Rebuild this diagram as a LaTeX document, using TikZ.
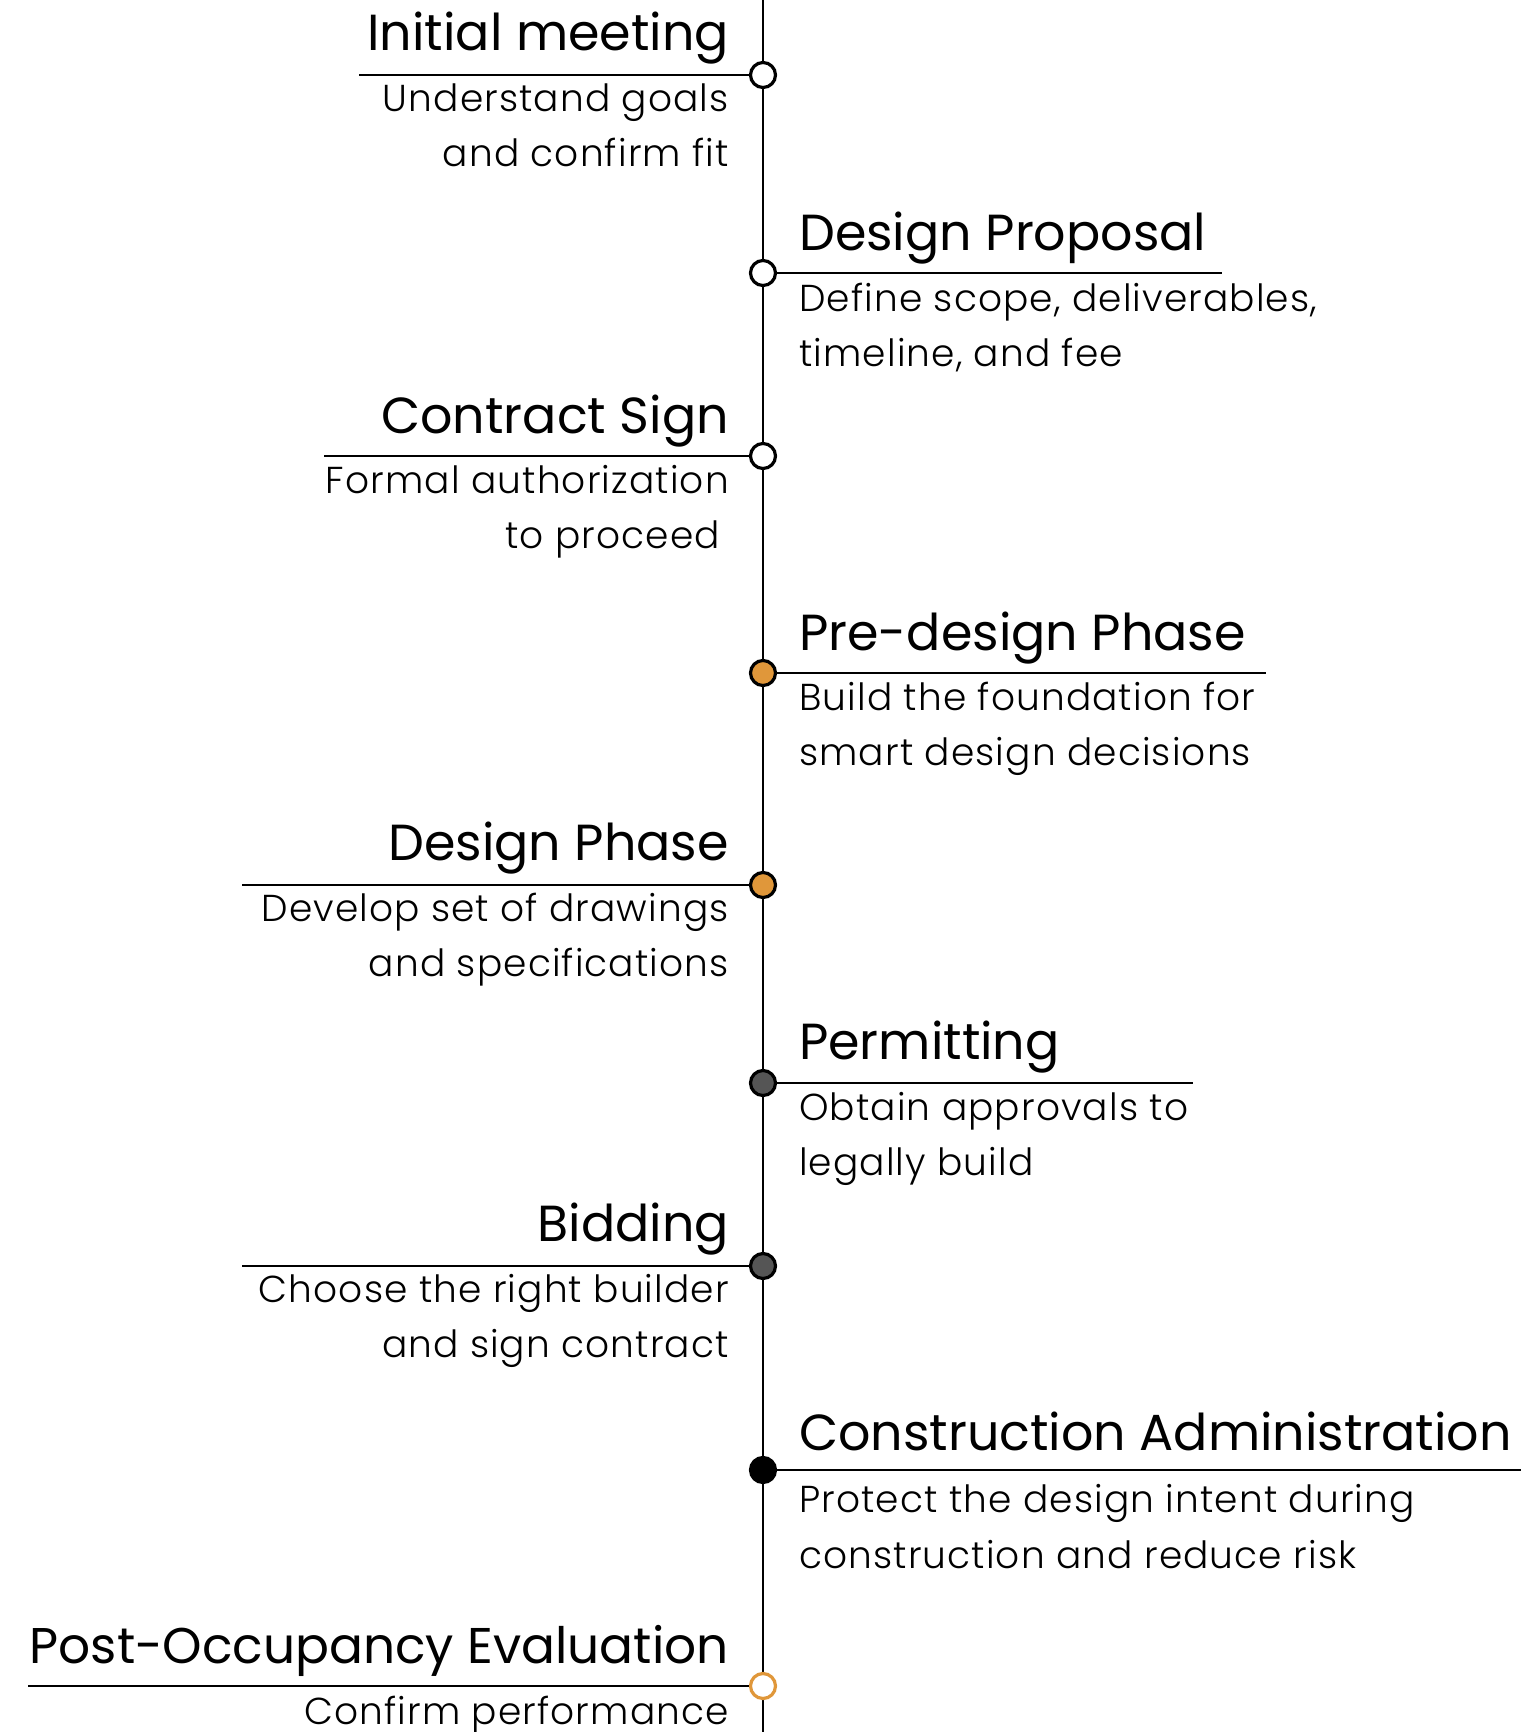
\documentclass[tikz,border=0pt]{standalone}
\usepackage{fontspec}
\setmainfont{Poppins}
\newfontfamily\descfont[LetterSpace=3.0]{Poppins Light}
\definecolor{accent}{HTML}{E0973A}
\definecolor{darkgrey}{HTML}{555555}
\tikzset{
  dot/.style={circle, draw=black, line width=3.2pt, minimum size=25pt, inner sep=0pt, fill=white},
  rule/.style={line width=1.7pt},
  spine/.style={line width=2pt},
  ttl/.style={inner sep=0pt, font=\fontsize{50.7}{60}\selectfont},
  dsc/.style={inner sep=0pt, font=\descfont\fontsize{37.5}{55}\selectfont},
}
\begin{document}
\begin{tikzpicture}[x=1pt,y=-1pt]
\useasboundingbox (0,0) rectangle (1521,1732);
\coordinate (top) at (763,0);
\coordinate (bot) at (763,1732);
\draw[spine] (top) -- (bot);
% circles
\node[dot] (c1) at (763,75) {};
\node[dot] (c2) at (763,273) {};
\node[dot] (c3) at (763,456) {};
\node[dot, fill=accent] (c4) at (763,673) {};
\node[dot, fill=accent] (c5) at (763,885) {};
\node[dot, fill=darkgrey] (c6) at (763,1083) {};
\node[dot, fill=darkgrey] (c7) at (763,1266) {};
\node[dot, fill=black] (c8) at (763,1470) {};
\node[dot, draw=accent] (c9) at (763,1686) {};
% underlines
\coordinate (u1) at (359,75);
\coordinate (u2) at (1222,273);
\coordinate (u3) at (324,456);
\coordinate (u4) at (1266,673);
\coordinate (u5) at (242,885);
\coordinate (u6) at (1193,1083);
\coordinate (u7) at (242,1266);
\coordinate (u8) at (1521,1470);
\coordinate (u9) at (28,1686);
\draw[rule] (u1) -- (c1.west);
\draw[rule] (c2.east) -- (u2);
\draw[rule] (u3) -- (c3.west);
\draw[rule] (c4.east) -- (u4);
\draw[rule] (u5) -- (c5.west);
\draw[rule] (c6.east) -- (u6);
\draw[rule] (u7) -- (c7.west);
\draw[rule] (c8.east) -- (u8);
\draw[rule] (u9) -- (c9.west);
% entries
\node[ttl, anchor=base east] (t1) at (729,50) {Initial meeting};
\node[dsc, anchor=base east] (d1a) at (729,111) {Understand goals};
\node[dsc, anchor=base east] (d1b) at (729,166) {and confirm fit};
\node[ttl, anchor=base west] (t2) at (799,250) {Design Proposal};
\node[dsc, anchor=base west] (d2a) at (799,311) {Define scope, deliverables,};
\node[dsc, anchor=base west] (d2b) at (799,366) {timeline, and fee};
\node[ttl, anchor=base east] (t3) at (729,433) {Contract Sign};
\node[dsc, anchor=base east] (d3a) at (729,493) {Formal authorization};
\node[dsc, anchor=base east] (d3b) at (720,548) {to proceed};
\node[ttl, anchor=base west] (t4) at (799,650) {Pre-design Phase};
\node[dsc, anchor=base west] (d4a) at (799,710) {Build the foundation for};
\node[dsc, anchor=base west] (d4b) at (799,765) {smart design decisions};
\node[ttl, anchor=base east] (t5) at (729,860) {Design Phase};
\node[dsc, anchor=base east] (d5a) at (729,921) {Develop set of drawings};
\node[dsc, anchor=base east] (d5b) at (729,976) {and specifications};
\node[ttl, anchor=base west] (t6) at (799,1059) {Permitting};
\node[dsc, anchor=base west] (d6a) at (799,1120) {Obtain approvals to};
\node[dsc, anchor=base west] (d6b) at (799,1175) {legally build};
\node[ttl, anchor=base east] (t7) at (729,1241) {Bidding};
\node[dsc, anchor=base east] (d7a) at (729,1302) {Choose the right builder};
\node[dsc, anchor=base east] (d7b) at (729,1357) {and sign contract};
\node[ttl, anchor=base west] (t8) at (799,1450) {Construction Administration};
\node[dsc, anchor=base west] (d8a) at (799,1512) {Protect the design intent during};
\node[dsc, anchor=base west] (d8b) at (799,1568) {construction and reduce risk};
\node[ttl, anchor=base east, font=\fontsize{50.2}{60}\selectfont] (t9) at (729,1663) {Post-Occupancy Evaluation};
\node[dsc, anchor=base east] (d9a) at (729,1724) {Confirm performance};
\end{tikzpicture}
\end{document}
